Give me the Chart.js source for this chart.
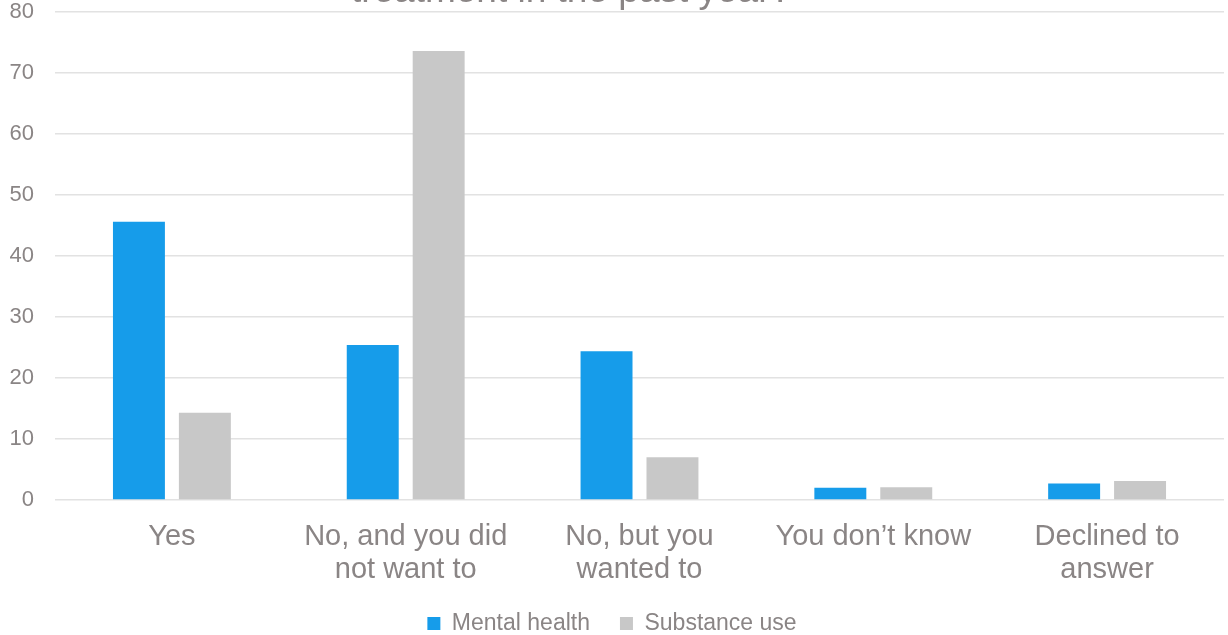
<!DOCTYPE html>
<html>
<head>
<meta charset="utf-8">
<script src="https://cdn.jsdelivr.net/npm/chart.js@4"></script>
<style>
  html, body { margin: 0; padding: 0; background: #ffffff; }
  #wrap { width: 1228px; height: 635px; position: relative; }
</style>
</head>
<body>
<div id="wrap"><canvas id="chart"></canvas></div>
<script>
const categories = [
  'Yes',
  ['No, and you did', 'not want to'],
  ['No, but you', 'wanted to'],
  'You don\u2019t know',
  ['Declined to', 'answer']
];
const mentalHealth = [45.6, 25.4, 24.4, 2.0, 2.7];
const substanceUse = [14.3, 73.6, 7.0, 2.1, 3.1];
const titleLine = 'treatment in the past year?';

const textColor = '#8a8585';
const fontFamily = '"Liberation Sans", Arial, sans-serif';

// only the last line of the title is inside the picture
const titlePlugin = {
  id: 'cutTitle',
  afterDraw(chart) {
    const ctx = chart.ctx;
    ctx.save();
    ctx.font = `37px ${fontFamily}`;
    ctx.fillStyle = textColor;
    ctx.textAlign = 'center';
    ctx.textBaseline = 'alphabetic';
    ctx.fillText(titleLine, 571, 2);
    ctx.restore();
  }
};

new Chart(document.getElementById('chart'), {
  type: 'bar',
  data: {
    labels: categories,
    datasets: [
      { label: 'Mental health', data: mentalHealth, backgroundColor: '#169cea', borderWidth: 0 },
      { label: 'Substance use', data: substanceUse, backgroundColor: '#c8c8c8', borderWidth: 0 }
    ]
  },
  options: {
    responsive: true,
    maintainAspectRatio: false,
    animation: false,
    categoryPercentage: 0.564,
    barPercentage: 0.788,
    layout: { padding: { top: 0, right: 4, bottom: -10, left: 0 } },
    plugins: {
      title: { display: false },
      tooltip: { enabled: false },
      legend: {
        position: 'bottom',
        labels: {
          color: textColor,
          font: { family: fontFamily, size: 23 },
          boxWidth: 13,
          boxHeight: 13,
          padding: 30
        }
      }
    },
    scales: {
      x: {
        grid: { display: false, drawTicks: false },
        border: { display: false },
        afterFit(scale) { scale.height = 82; },
        ticks: {
          color: textColor,
          font: { family: fontFamily, size: 29, lineHeight: 1.14 },
          padding: 20,
          maxRotation: 0,
          autoSkip: false
        }
      },
      y: {
        min: 0,
        max: 80,
        grid: { color: '#e2e2e2', lineWidth: 1.5, drawTicks: false },
        border: { display: false },
        afterFit(scale) {
          scale.width = 55;
          scale.paddingTop = 12;
        },
        ticks: {
          stepSize: 10,
          color: textColor,
          font: { family: fontFamily, size: 22 },
          padding: 21
        }
      }
    }
  },
  plugins: [titlePlugin]
});
</script>
</body>
</html>
